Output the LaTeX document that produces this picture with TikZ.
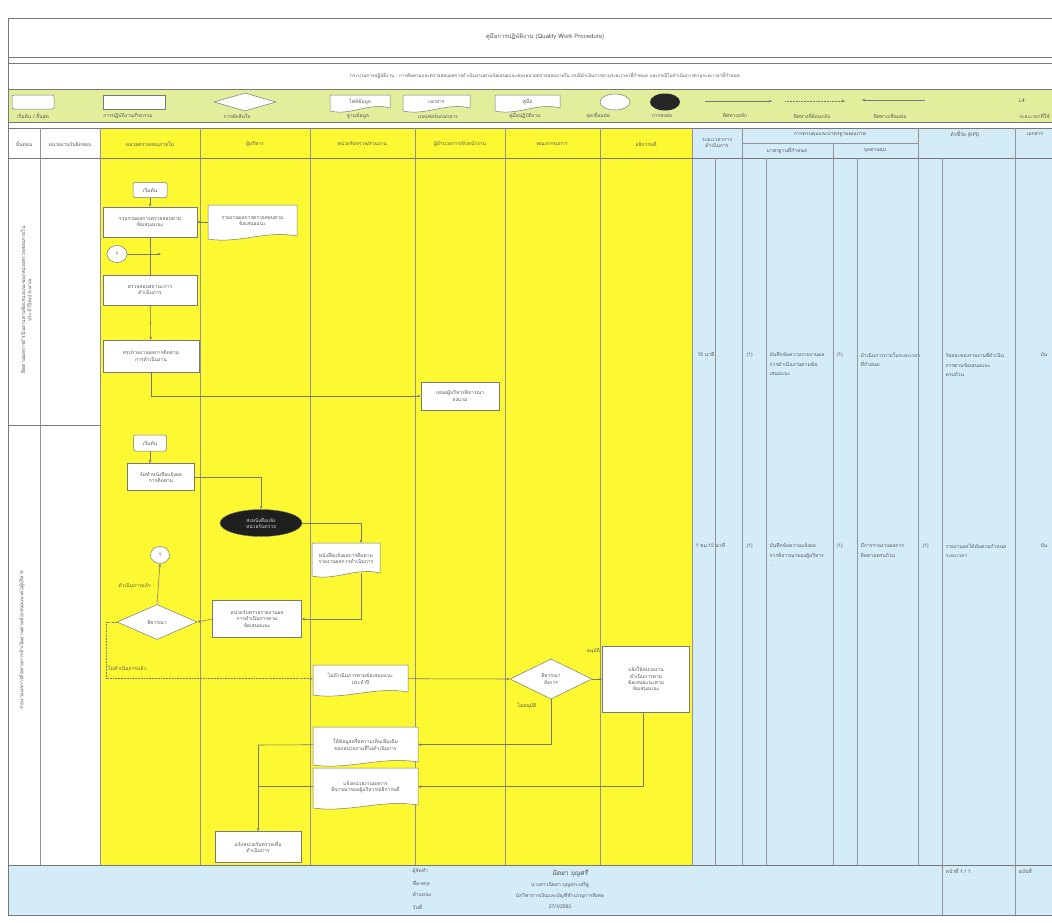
\documentclass[tikz,border=0pt]{standalone}
\usepackage{fontspec}
\newfontfamily\thai[Script=Thai]{Loma}
\usetikzlibrary{arrows.meta,shapes.geometric,calc}
\definecolor{ylw}{RGB}{252,248,50}
\definecolor{lgd}{RGB}{226,238,156}
\definecolor{blu}{RGB}{212,236,248}
\definecolor{ln}{RGB}{120,120,120}
\definecolor{tx}{RGB}{85,85,85}
\tikzset{
  txt/.style={font=\thai\fontsize{5}{6.2}\selectfont, text=tx, align=center, inner sep=0.5pt},
  pbox/.style={txt, draw=ln, fill=white, line width=0.5pt},
  flow/.style={draw=ln, line width=0.55pt, -{Stealth[length=3.2pt,width=2.6pt]}},
  plain/.style={draw=ln, line width=0.55pt},
  frame/.style={draw=ln, line width=0.6pt},
  grid/.style={draw=ln!80, line width=0.45pt},
  lab/.style={txt, inner sep=0pt},
}
\newcommand{\dshape}[6]{%
  \path[fill=white, draw=ln, line width=0.5pt] (#2,#3) -- (#4,#3) -- (#4,{#5-3})
    .. controls ({#2+0.65*(#4-#2)},{#5-9}) and ({#2+0.35*(#4-#2)},{#5+5}) .. (#2,#5) -- cycle;
  \node[txt, minimum width={(#4-#2)*1pt}, minimum height={(#5-#3-3)*1pt}, anchor=north] (#1) at ({(#2+#4)/2},#3) {#6};}
\begin{document}
\begin{tikzpicture}[x=1pt,y=-1pt]
\useasboundingbox (0,0) rectangle (1052,922);
\fill[white] (0,0) rectangle (1052,922);
% backgrounds
\fill[lgd] (8,89) rectangle (1052,122);
\fill[ylw] (100,128) rectangle (692,865);
\fill[blu] (692,128) rectangle (1052,865);
\fill[blu] (8,865) rectangle (1052,915);
% frame lines
\draw[frame, line width=1pt] (8,18) -- (1052,18);
\draw[frame] (8,57) -- (1052,57);
\draw[frame, line width=1pt] (8,63) -- (1052,63);
\draw[frame] (8,89) -- (1052,89);
\draw[frame] (8,122) -- (1052,122);
\draw[frame] (8,128) -- (1052,128);
\draw[frame] (8,158) -- (1052,158);
\draw[frame] (8,865) -- (1052,865);
\draw[frame, line width=1pt] (8,915) -- (1052,915);
\draw[frame] (8,18) -- (8,915);
\draw[frame] (8,425) -- (100,425);
% column lines
\foreach \x in {40,100,200,310,415,505,600,692,742,918,1015} \draw[grid] (\x,128) -- (\x,865);
\draw[grid] (833,143) -- (833,865);
\draw[grid] (742,143) -- (918,143);
\foreach \x in {715,766,857,942} \draw[grid] (\x,158) -- (\x,865);
\draw[grid] (942,865) -- (942,915);
\draw[grid] (1015,865) -- (1015,915);
% titles
\node[txt, font=\thai\fontsize{6}{7}\selectfont] (title) at (545,37) {คู่มือการปฏิบัติงาน (Quality Work Procedure)};
\node[txt, font=\thai\fontsize{4.6}{6}\selectfont] (proc) at (545,76) {กระบวนการปฏิบัติงาน : การติดตามและตรวจสอบผลการดำเนินงานตามข้อเสนอแนะของหน่วยตรวจสอบภายใน กรณีดำเนินการตามระยะเวลาที่กำหนด และกรณีไม่ดำเนินการตามระยะเวลาที่กำหนด};
% legend
\node[pbox, rounded corners=2pt, minimum width=42pt, minimum height=14pt] (lg1) at (33,102) {};
\node[pbox, minimum width=62pt, minimum height=14pt] (lg2) at (134,102) {};
\node[pbox, diamond, aspect=3.4, minimum width=62pt, minimum height=18pt, inner sep=0pt] (lg3) at (245,102) {};
\dshape{lg4}{330}{95}{390}{111}{ไฟล์ข้อมูล}
\dshape{lg5}{403}{95}{470}{111}{เอกสาร}
\dshape{lg6}{495}{95}{560}{111}{คู่มือ}
\node[pbox, ellipse, minimum width=30pt, minimum height=16pt] (lg7) at (615,102) {};
\node[ellipse, fill=black!85, minimum width=30pt, minimum height=17pt] (lg8) at (665,102) {};
\coordinate (a1s) at (705,101); \coordinate (a1e) at (772,101);
\draw[flow] (a1s) -- (a1e);
\coordinate (a2s) at (785,101); \coordinate (a2e) at (845,101);
\draw[flow, densely dotted] (a2s) -- (a2e);
\coordinate (a3s) at (862,100); \coordinate (a3e) at (925,100);
\draw[flow, {Stealth[length=3.2pt,width=2.6pt]}-] (a3s) -- (a3e);
\node[lab] (l4) at (1022,101) {L4};
\node[lab] (lt1) at (33,116) {เริ่มต้น / สิ้นสุด};
\node[lab] (lt2) at (128,116) {การปฏิบัติงาน/กิจกรรม};
\node[lab] (lt3) at (237,116) {การตัดสินใจ};
\node[lab] (lt4) at (358,116) {ฐานข้อมูล};
\node[lab] (lt5) at (438,116) {แบบฟอร์ม/เอกสาร};
\node[lab] (lt6) at (525,116) {คู่มือปฏิบัติงาน};
\node[lab] (lt7) at (598,116) {จุดเชื่อมต่อ};
\node[lab] (lt8) at (662,116) {การส่งต่อ};
\node[lab] (lt9) at (735,116) {ทิศทางหลัก};
\node[lab] (lt10) at (812,116) {ทิศทางที่ย้อนกลับ};
\node[lab] (lt11) at (890,116) {ทิศทางเชื่อมต่อ};
\node[lab, anchor=east] (lt12) at (1050,116) {ระยะเวลาที่ใช้};
% column headers
\node[txt] (h1) at (24,144) {ขั้นตอน};
\node[txt] (h2) at (70,144) {หน่วยงานรับผิดชอบ};
\node[txt] (h3) at (150,144) {หน่วยตรวจสอบภายใน};
\node[txt] (h4) at (255,144) {ผู้บริหาร};
\node[txt] (h5) at (362,144) {หน่วยรับตรวจ/ส่วนงาน};
\node[txt] (h6) at (460,144) {ผู้อำนวยการ/หัวหน้างาน};
\node[txt] (h7) at (552,144) {คณะกรรมการ};
\node[txt] (h8) at (646,144) {อธิการบดี};
\node[txt] (h9) at (717,143) {ระยะเวลาการ\\ดำเนินการ};
\node[txt] (h10) at (830,135) {การควบคุมและมาตรฐานคุณภาพ};
\node[txt] (h11) at (787,151) {มาตรฐานที่กำหนด};
\node[txt] (h12) at (875,151) {จุดควบคุม};
\node[txt] (h13) at (965,134) {ตัวชี้วัด (KPI)};
\node[txt] (h14) at (1035,134) {เอกสาร};
% step texts
\node[txt, rotate=90] (st1) at (26,300) {ติดตามผลการดำเนินงานตามข้อเสนอแนะของหน่วยตรวจสอบภายใน\\ประจำปีงบประมาณ};
\node[txt, rotate=90] (st2) at (22,640) {รายงานผลการติดตามการดำเนินงานตามข้อเสนอแนะต่อผู้บริหาร};
% ---- row 1 flow
\node[pbox, rounded corners=2pt, minimum width=34pt, minimum height=15pt] (s1) at (150,190) {เริ่มต้น};
\node[pbox, minimum width=94pt, minimum height=30pt] (b1) at (150,222) {รวบรวมผลการตรวจสอบตาม\\ข้อเสนอแนะ};
\dshape{d1}{208}{205}{297}{239}{รายงานผลการตรวจสอบตาม\\ข้อเสนอแนะ}
\node[pbox, ellipse, minimum width=20pt, minimum height=17pt] (c1) at (117,254) {1};
\coordinate (c1e) at (161,254);
\node[pbox, minimum width=94pt, minimum height=30pt] (b2) at (150,290) {ตรวจสอบสถานะการ\\ดำเนินการ};
\node[pbox, minimum width=96pt, minimum height=32pt] (b3) at (151,356) {สรุปรายงานผลการติดตาม\\การดำเนินงาน};
\node[pbox, minimum width=78pt, minimum height=28pt] (b4) at (460,396) {เสนอผู้บริหารพิจารณา\\ลงนาม};
\draw[flow] (s1) -- (b1);
\draw[flow] (d1.west |- b1.east) -- (b1.east);
\draw[plain] (b1) -- (b2);
\draw[flow] (c1) -- (c1e);
\draw[flow] (b2) -- (b3);
\draw[flow] (b3.south) |- (b4.west);
% ---- row 2 flow
\node[pbox, rounded corners=2pt, minimum width=33pt, minimum height=16pt] (s2) at (150,443) {เริ่มต้น};
\node[pbox, minimum width=67pt, minimum height=27pt] (b5) at (161,477) {จัดทำหนังสือแจ้งผล\\การติดตาม};
\node[ellipse, fill=black!88, draw=ln, minimum width=82pt, minimum height=27pt, txt, text=white!85!black] (el) at (261,523) {ส่งหนังสือแจ้ง\\หน่วยรับตรวจ};
\dshape{d2}{312}{543}{380}{576}{หนังสือแจ้งผลการติดตาม\\รายงานผลการดำเนินการ}
\node[pbox, minimum width=89pt, minimum height=37pt] (b6) at (257,619) {หน่วยรับตรวจรายงานผล\\การดำเนินการตาม\\ข้อเสนอแนะ};
\node[pbox, diamond, aspect=2.4, minimum width=80pt, minimum height=35pt, inner sep=0pt] (dm1) at (157,622) {พิจารณา};
\node[pbox, ellipse, minimum width=19pt, minimum height=17pt] (c2) at (160,555) {1};
\coordinate (k1) at (106,622);
\node[lab, anchor=east] (lb1) at (151,585) {ดำเนินการแล้ว};
\node[lab, anchor=west] (lb2) at (108,668) {ไม่ดำเนินการแล้ว};
\dshape{d3}{313}{665}{408}{695}{ไม่ดำเนินการตามข้อเสนอแนะ\\ประจำปี}
\node[pbox, diamond, aspect=2.1, minimum width=82pt, minimum height=40pt, inner sep=0pt] (dm2) at (551,679) {พิจารณา\\สั่งการ};
\node[lab] (lb3) at (527,706) {ไม่อนุมัติ};
\node[lab, anchor=east] (lb4) at (600,651) {อนุมัติ};
\node[pbox, minimum width=87pt, minimum height=66pt] (b7) at (646,679) {แจ้งให้หน่วยงาน\\ดำเนินการตาม\\ข้อเสนอแนะตาม\\ข้อเสนอแนะ};
\dshape{d4}{313}{727}{418}{765}{ให้ข้อมูลหรือความเห็นเพิ่มเติม\\ของหน่วยงานที่ไม่ดำเนินการ}
\dshape{d5}{313}{768}{418}{808}{แจ้งหน่วยงานผลการ\\พิจารณาของผู้บริหาร/อธิการบดี}
\node[pbox, minimum width=86pt, minimum height=31pt] (fb) at (258,847) {แจ้งหน่วยรับตรวจเพื่อ\\ดำเนินการ};
\coordinate (j1) at (258,745);
\draw[flow] (s2.south) -- (s2.south |- b5.north);
\draw[flow] (b5.east) -| (el.north);
\draw[flow] (el.east) -| ([xshift=15pt]d2.north);
\draw[flow] ([xshift=15pt]d2.south) |- (b6.east);
\draw[flow] (b6.west) -- (dm1.east);
\draw[flow] (dm1.north) -- (c2.south);
\draw[flow, densely dotted] (dm1.west) -- (k1) |- (d3.west);
\draw[flow] (d3.east) -- (dm2.west);
\draw[flow] (dm2.east) -- (b7.west);
\draw[flow] (dm2.south) |- (d4.east);
\draw[flow] ([xshift=-3pt]b7.south) |- (d5.east);
\draw[plain] (d4.west) -- (j1);
\draw[plain] (d5.west) -- (j1 |- d5.west);
\draw[flow] (j1) -- (fb.north);
% ---- right columns
\begin{scope}[every node/.style={txt, align=left, anchor=north west}]
\node (r1a) at (697,352) {15 นาที};
\node (r1b) at (746,352) {(1)};
\node (r1c) at (769,352) {บันทึกข้อความรายงานผล\\[3pt]การดำเนินงานตามข้อ\\[3pt]เสนอแนะ};
\node (r1d) at (836,352) {(1)};
\node (r1e) at (860,352) {ดำเนินการภายในระยะเวลา\\[3pt]ที่กำหนด};
\node (r1f) at (945,352) {ร้อยละของรายงานที่ดำเนิน\\[3pt]การตามข้อเสนอแนะ\\[3pt]ครบถ้วน};
\node (r1g) at (1040,352) {บัน};
\node (r2a) at (695,543) {1 ชม.15 นาที};
\node (r2b) at (746,543) {(1)};
\node (r2c) at (769,543) {บันทึกข้อความแจ้งผล\\[3pt]การพิจารณาของผู้บริหาร\\[3pt]\,.};
\node (r2d) at (836,543) {(1)};
\node (r2e) at (860,543) {มีการรายงานผลการ\\[3pt]ติดตามครบถ้วน};
\node (r2f) at (922,543) {(1)};
\node (r2g) at (945,543) {รายงานผลได้ทันตามกำหนด\\[3pt]ระยะเวลา};
\node (r2h) at (1040,543) {บัน};
% footer
\node (f1) at (412,868) {ผู้จัดทำ};
\node (f2) at (412,880) {ชื่อ-สกุล};
\node (f3) at (412,892) {ตำแหน่ง};
\node (f4) at (412,904) {วันที่};
\node (f9) at (945,868) {หน้าที่ 1 / 1};
\node (f10) at (1018,868) {ฉบับที่};
\end{scope}
\node[txt, font=\thai\itshape\fontsize{6.5}{7}\selectfont, text=black!70] (sig) at (570,874) {นิตยา บุญศรี};
\node[txt] (f5) at (560,885) {นางสาวนิตยา บุญประเสริฐ};
\node[txt] (f6) at (560,896) {นักวิชาการเงินและบัญชีชำนาญการพิเศษ};
\node[txt] (f7) at (560,907) {27/1/2563};
\end{tikzpicture}
\end{document}
